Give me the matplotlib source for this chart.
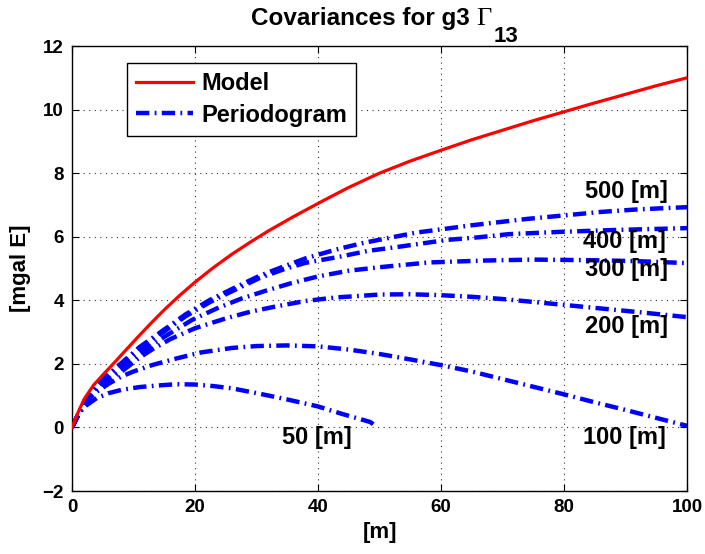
import matplotlib
matplotlib.use("Agg")
import matplotlib.pyplot as plt
import numpy as np

plt.rcParams['font.family'] = ['Liberation Sans', 'DejaVu Sans']
plt.rcParams['font.weight'] = 'bold'
plt.rcParams['mathtext.fontset'] = 'custom'
plt.rcParams['mathtext.rm'] = 'Liberation Serif:normal'
plt.rcParams['mathtext.bf'] = 'Liberation Sans:bold'

# ---- data ----
model_x = [0, 1, 2, 3.5, 5, 6.7, 8.5, 10.5, 12.7, 15, 17.5, 20, 23, 26, 29, 32, 36, 41, 45, 50,
           55, 60, 65, 70, 75, 80, 85, 90, 95, 100]
model_y = [0, 0.48, 0.9, 1.33, 1.65, 2.0, 2.38, 2.8, 3.25, 3.7, 4.15, 4.57, 5.03, 5.45, 5.83, 6.19,
           6.63, 7.15, 7.55, 8.0, 8.38, 8.72, 9.05, 9.35, 9.65, 9.93, 10.21, 10.48, 10.75, 11.0]

p50_x = [0, 1, 2, 4, 6, 8, 11, 14, 17, 20, 23, 26, 30, 35, 40, 44, 48.5, 49.5]
p50_y = [0, 0.4, 0.65, 0.92, 1.08, 1.18, 1.27, 1.32, 1.36, 1.35, 1.3, 1.23, 1.08, 0.88, 0.66, 0.42, 0.17, 0.02]

p100_x = [0, 2, 4, 6, 8, 10, 13, 17, 21, 26, 30, 35, 40, 45, 50, 55, 60, 65, 70, 75, 80, 85, 90, 95, 100]
p100_y = [0, 0.75, 1.12, 1.38, 1.6, 1.76, 1.96, 2.17, 2.36, 2.5, 2.56, 2.58, 2.55, 2.45, 2.31, 2.14,
          1.96, 1.76, 1.52, 1.28, 1.04, 0.79, 0.55, 0.3, 0.05]

p200_x = [0, 2, 4, 6, 8, 11, 13, 16, 20, 25, 29, 33, 38, 43, 50, 55, 60, 65, 70, 76, 84, 92, 100]
p200_y = [0, 0.78, 1.22, 1.52, 1.75, 2.2, 2.45, 2.78, 3.12, 3.43, 3.64, 3.8, 3.98, 4.09, 4.18, 4.19,
          4.16, 4.11, 4.04, 3.93, 3.78, 3.63, 3.47]

p300_x = [0, 2, 4, 6, 8, 11, 15, 19.5, 23.5, 27.5, 31.5, 35.5, 40, 45, 50, 58, 67, 75, 85, 92, 100]
p300_y = [0, 0.8, 1.28, 1.58, 1.86, 2.33, 2.85, 3.38, 3.74, 4.05, 4.3, 4.53, 4.75, 4.93, 5.04, 5.19,
          5.25, 5.28, 5.26, 5.23, 5.17]

p400_x = [0, 2, 5, 8, 11, 15, 18.5, 22.5, 26.5, 30.5, 34.5, 38, 43.5, 48, 53, 61, 66, 71, 79, 88, 98, 100]
p400_y = [0, 0.8, 1.48, 1.98, 2.47, 3.02, 3.5, 3.95, 4.33, 4.7, 4.98, 5.18, 5.37, 5.55, 5.68, 5.9,
          5.98, 6.08, 6.15, 6.21, 6.26, 6.27]

p500_x = [0, 2, 5, 8, 11, 15, 18.5, 22.5, 26.5, 30.5, 34.5, 38, 43, 47.5, 52, 56, 61.5, 65, 74, 80, 86, 92, 100]
p500_y = [0, 0.82, 1.52, 2.02, 2.53, 3.08, 3.56, 4.02, 4.4, 4.77, 5.07, 5.32, 5.6, 5.81, 5.98, 6.13,
          6.27, 6.36, 6.56, 6.67, 6.78, 6.86, 6.93]

curve_labels = ['50 [m]', '100 [m]', '200 [m]', '300 [m]', '400 [m]', '500 [m]']
label_x = [39.8, 89.9, 90.2, 90.2, 89.8, 90.1]
label_y = [-0.32, -0.32, 3.19, 4.98, 5.86, 7.43]

x_ticks = [0, 20, 40, 60, 80, 100]
y_ticks = [-2, 0, 2, 4, 6, 8, 10, 12]

# ---- figure ----
fig = plt.figure(figsize=(7.05, 5.54), dpi=100)
ax = fig.add_axes([72 / 705, 63 / 554, 615 / 705, 445 / 554])

blue_ls = (0, (3.0, 1.2, 0.4, 1.2))
pers = [(p50_x, p50_y), (p100_x, p100_y), (p200_x, p200_y), (p300_x, p300_y),
        (p400_x, p400_y), (p500_x, p500_y)]
ax.plot(model_x, model_y, color='#ff0000', lw=2.3, label='Model', zorder=3)
for i, (px, py) in enumerate(pers):
    ax.plot(px, py, color='#0000ff', lw=3.2, linestyle=blue_ls, dash_capstyle='butt',
            label='Periodogram' if i == 0 else None, zorder=2)

for t, lx, ly in zip(curve_labels, label_x, label_y):
    ax.text(lx, ly, t, ha='center', va='center', fontsize=17, fontweight='bold')

ax.set_xlim(0, 100)
ax.set_ylim(-2, 12)
ax.set_xticks(x_ticks)
ax.set_yticks(y_ticks)
ax.tick_params(direction='in', length=5, width=0.8, top=True, right=True, labelsize=13.5, pad=6)
for lab in ax.get_xticklabels() + ax.get_yticklabels():
    lab.set_fontweight('bold')
ax.grid(True, linestyle=(0, (1, 4)), color='#333333', lw=0.8)
for sp in ax.spines.values():
    sp.set_linewidth(1.0)

ax.set_xlabel('[m]', fontsize=16, fontweight='bold', labelpad=4)
ax.set_ylabel('[mgal E]', fontsize=16, fontweight='bold', labelpad=8)

leg = ax.legend(loc='upper left', bbox_to_anchor=(0.089, 0.962), borderaxespad=0,
                fontsize=17, handlelength=2.4, handletextpad=0.35, fancybox=False,
                framealpha=1, edgecolor='black', borderpad=0.4, labelspacing=0.35)
leg.get_frame().set_linewidth(1.0)
for t in leg.get_texts():
    t.set_fontweight('bold')

# title with serif Gamma and bold subscript
t1 = fig.text(251 / 705, 1 - 25 / 554, 'Covariances for g3 ', fontsize=17.5, fontweight='bold',
              ha='left', va='baseline')
t2 = fig.text(0, 0, r'$\Gamma$', fontsize=19, fontweight='normal', ha='left', va='baseline')
t3 = fig.text(0, 0, '13', fontsize=16, fontweight='bold', ha='left', va='baseline')
fig.canvas.draw()
r = fig.canvas.get_renderer()
bb1 = t1.get_window_extent(r)
inv = fig.transFigure.inverted()
x2 = inv.transform((bb1.x1, 0))[0]
t2.set_position((x2, 1 - 25 / 554))
fig.canvas.draw()
bb2 = t2.get_window_extent(r)
x3 = inv.transform((bb2.x1 + 1, 0))[0]
t3.set_position((x3, 1 - 42 / 554))

fig.savefig('out.png', dpi=100)
